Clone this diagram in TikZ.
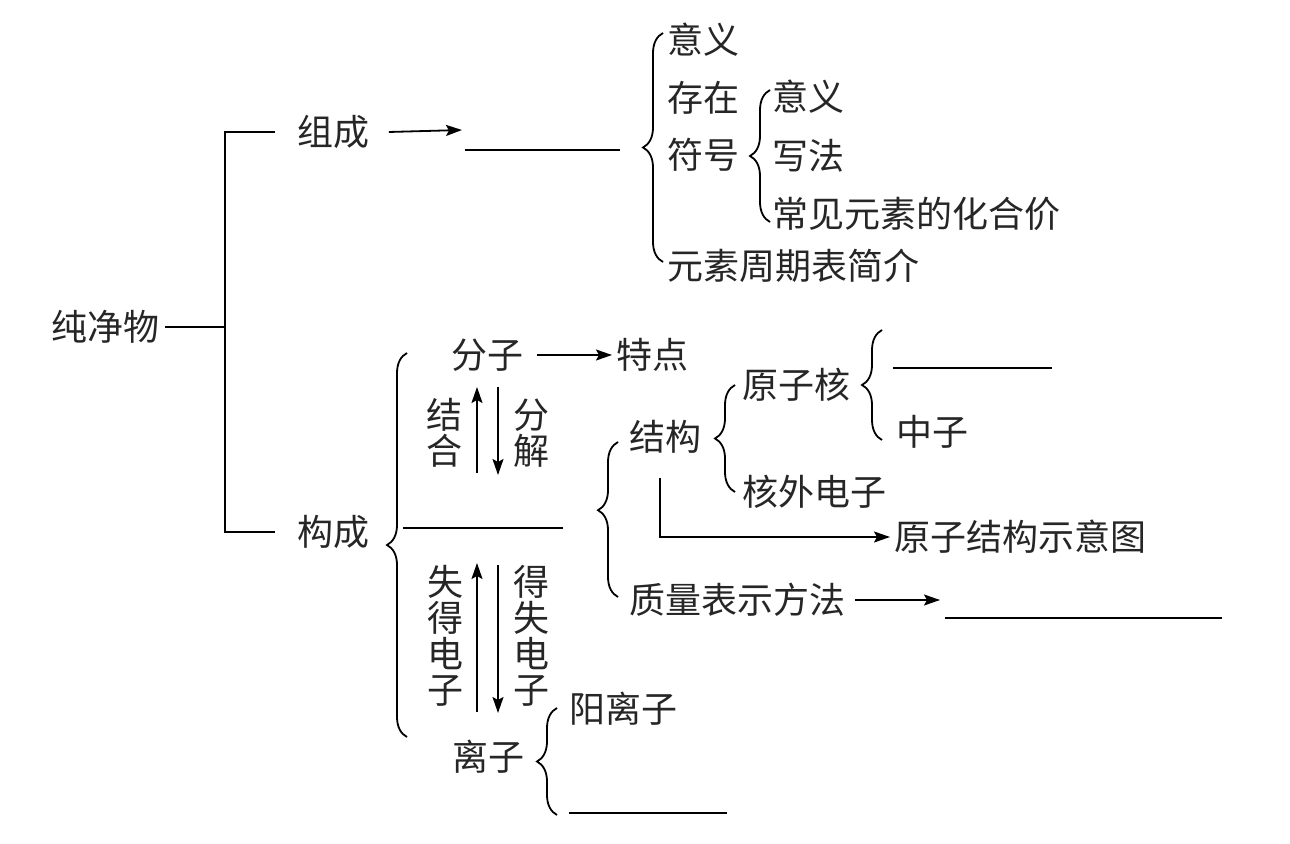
\documentclass[tikz,border=0pt]{standalone}
\usepackage{fontspec}
\setmainfont{Noto Sans CJK SC}
\usetikzlibrary{arrows.meta, decorations.pathreplacing}

\begin{document}
\begin{tikzpicture}
            [x=0.5pt, y=-0.5pt, line width=0.9pt,
             arr/.style={-{Stealth[length=8pt,width=5.5pt,inset=1.5pt]}},
             every node/.style={inner sep=2pt, anchor=west, text=black!85, font=\fontsize{18}{18}\selectfont},
             vtxt/.style={anchor=center, align=center},
             brc/.style={decorate, decoration={brace, amplitude=10pt}}]
            \useasboundingbox (0, 0) rectangle (1290, 844);

            \node (chun) at (47, 327) {纯净物};
            \node (zucheng) at (293, 132) {组成};
            \node (goucheng) at (293, 532) {构成};
            \coordinate (fork) at (225, 327);

            \node (yiyi) at (663, 40) {意义};
            \node (cunzai) at (663, 98) {存在};
            \node (fuhao) at (663, 155) {符号};
            \node (yiyib) at (768, 97) {意义};
            \node (xiefa) at (768, 156) {写法};
            \node (huajia) at (768, 214) {常见元素的化合价};
            \node (zhouqi) at (663, 266) {元素周期表简介};

            \node (fenzi) at (447, 355) {分子};
            \node (tedian) at (612, 355) {特点};
            \node[vtxt] (jiehe) at (444, 433) {结\\合};
            \node[vtxt] (fenjie) at (531, 433) {分\\解};
            \node[vtxt] (shide) at (445, 636) {失\\得\\电\\子};
            \node[vtxt] (deshi) at (531, 636) {得\\失\\电\\子};
            \node (lizi) at (448, 757) {离子};
            \node (yanglizi) at (565, 709) {阳离子};

            \node (jiegou) at (625, 437) {结构};
            \node (yuanzihe) at (738, 385) {原子核};
            \node (zhongzi) at (892, 432) {中子};
            \node (hewai) at (738, 492) {核外电子};
            \node (shiyitu) at (890, 537) {原子结构示意图};
            \node (zhiliang) at (625, 600) {质量表示方法};

            \coordinate (zcend) at (462, 130);
            \coordinate (zlend) at (940, 600);
            \coordinate (jgdown) at (660, 478);
            \coordinate (upa) at (477, 473);
            \coordinate (upb) at (477, 387);
            \coordinate (dna) at (498, 387);
            \coordinate (dnb) at (498, 475);
            \coordinate (upc) at (477, 712);
            \coordinate (upd) at (477, 563);
            \coordinate (dnc) at (498, 565);
            \coordinate (dnd) at (498, 713);

            % tree lines
            \path (chun) edge (fork);
            \draw ([xshift=-9pt]zucheng.west) -| (fork) |- ([xshift=-9pt]goucheng.west);
            \draw[arr] ([xshift=7pt]zucheng.east) -- (zcend);
            \draw[arr, shorten <=4pt] (fenzi) -- (tedian);
            \draw[arr] (upa) -- (upb);
            \draw[arr] (dna) -- (dnb);
            \draw[arr] (upc) -- (upd);
            \draw[arr] (dnc) -- (dnd);
            \draw[arr] (jgdown) |- (shiyitu.west);
            \draw[arr, shorten <=2pt] (zhiliang.east) -- (zlend);

            % blanks
            \draw (465, 150) -- (620, 150);
            \draw (403, 528) -- (563, 528);
            \draw (893, 368) -- (1052, 368);
            \draw (945, 618) -- (1222, 618);
            \draw (569, 813) -- (727, 813);

            % braces
            \draw[brc] (663, 262) -- (663, 33);
            \draw[brc] (770, 222) -- (770, 90);
            \draw[brc] (407, 737) -- (407, 353);
            \draw[brc, decoration={aspect=0.56}] (618, 597) -- (618, 442);
            \draw[brc] (735, 492) -- (735, 385);
            \draw[brc] (882, 440) -- (882, 330);
            \draw[brc] (557, 815) -- (557, 708);
        \end{tikzpicture}
\end{document}
